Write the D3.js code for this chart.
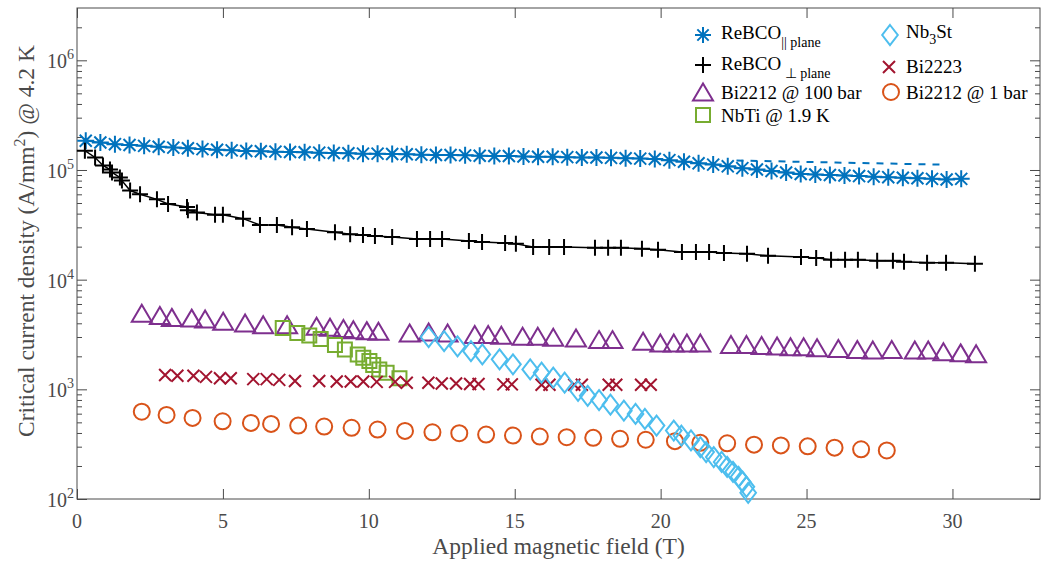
<!DOCTYPE html>
<html>
<head>
<meta charset="utf-8">
<script src="https://cdn.jsdelivr.net/npm/d3@7"></script>
<style>
  body { margin: 0; background: #fff; }
  svg { display: block; font-family: "Liberation Serif", "Times New Roman", serif; }
</style>
</head>
<body>
<script>
// values: [applied field (T), Jc (A/mm^2)]
var rebcoPar = [[0.3,1.85e5],[0.8,1.78e5],[1.3,1.72e5],[1.8,1.69e5],[2.3,1.66e5],[2.8,1.63e5],[3.3,1.60e5],[3.8,1.58e5],
  [4.3,1.55e5],[4.8,1.53e5],[5.3,1.51e5],[5.8,1.49e5],[6.3,1.48e5],[6.8,1.47e5],[7.3,1.46e5],[7.8,1.45e5],[8.3,1.44e5],
  [8.8,1.43e5],[9.3,1.42e5],[9.8,1.41e5],[10.3,1.41e5],[10.8,1.40e5],[11.3,1.39e5],[11.8,1.38e5],[12.3,1.37e5],
  [12.8,1.37e5],[13.3,1.36e5],[13.8,1.35e5],[14.3,1.34e5],[14.8,1.34e5],[15.3,1.33e5],[15.8,1.32e5],[16.3,1.32e5],
  [16.8,1.31e5],[17.3,1.30e5],[17.8,1.30e5],[18.3,1.29e5],[18.8,1.28e5],[19.3,1.27e5],[19.8,1.26e5],[20.3,1.23e5],
  [20.8,1.19e5],[21.3,1.15e5],[21.8,1.12e5],[22.3,1.08e5],[22.8,1.04e5],[23.3,1.01e5],[23.8,9.8e4],[24.3,9.5e4],
  [24.8,9.2e4],[25.3,9.1e4],[25.8,9.0e4],[26.3,8.9e4],[26.8,8.8e4],[27.3,8.7e4],[27.8,8.6e4],[28.3,8.5e4],[28.8,8.4e4],
  [29.3,8.3e4],[29.8,8.2e4],[30.3,8.3e4]];
var rebcoParDash = [[22.6,1.22e5],[26.0,1.17e5],[29.6,1.12e5]];
var rebcoPerp = [[0.27,1.50e5],[0.62,1.30e5],[0.89,1.10e5],[1.13,1.01e5],[1.20,9.5e4],[1.47,8.55e4],[1.54,8.0e4],
  [1.82,6.5e4],[2.16,6.0e4],[2.74,5.4e4],[3.12,4.9e4],[3.77,4.6e4],[3.80,4.3e4],[4.11,4.1e4],[4.73,3.9e4],[5.00,3.9e4],
  [5.69,3.6e4],[6.27,3.15e4],[6.85,3.15e4],[7.37,3.0e4],[7.88,2.9e4],[8.84,2.7e4],[9.36,2.6e4],[9.80,2.55e4],
  [10.21,2.5e4],[10.80,2.45e4],[11.65,2.35e4],[12.10,2.35e4],[12.51,2.35e4],[13.43,2.25e4],[13.88,2.2e4],[14.67,2.16e4],
  [15.04,2.12e4],[15.63,1.99e4],[16.18,1.99e4],[16.69,1.99e4],[17.75,1.95e4],[18.20,1.95e4],[18.64,1.95e4],
  [19.36,1.91e4],[19.91,1.87e4],[20.73,1.79e4],[21.21,1.79e4],[21.66,1.79e4],[22.17,1.75e4],[22.96,1.72e4],
  [23.68,1.65e4],[24.81,1.61e4],[25.33,1.58e4],[25.84,1.52e4],[26.32,1.52e4],[26.76,1.52e4],[27.42,1.49e4],
  [27.96,1.49e4],[28.34,1.46e4],[29.13,1.43e4],[29.78,1.43e4],[30.77,1.40e4]];
var bi2212High = [[2.22,4.95e3],[2.84,4.72e3],[3.25,4.53e3],[3.93,4.46e3],[4.39,4.37e3],[5.01,4.17e3],[5.76,4.03e3],
  [6.38,3.89e3],[7.2,3.89e3],[8.21,3.76e3],[8.67,3.68e3],[9.13,3.58e3],[9.47,3.50e3],[9.93,3.43e3],[10.33,3.38e3],
  [11.4,3.27e3],[12.05,3.34e3],[12.7,3.27e3],[13.63,3.16e3],[14.09,3.16e3],[14.54,3.11e3],[15.27,3.05e3],[15.79,3.05e3],
  [16.32,2.99e3],[17.1,2.94e3],[17.89,2.84e3],[18.35,2.84e3],[19.4,2.75e3],[19.99,2.65e3],[20.45,2.65e3],[20.9,2.65e3],
  [21.36,2.65e3],[22.41,2.56e3],[22.94,2.56e3],[23.46,2.51e3],[23.99,2.48e3],[24.45,2.44e3],[24.9,2.44e3],[25.36,2.39e3],
  [26.09,2.36e3],[26.74,2.31e3],[27.27,2.28e3],[27.92,2.31e3],[28.71,2.28e3],[29.17,2.28e3],[29.69,2.20e3],
  [30.28,2.15e3],[30.81,2.11e3]];
var nbti = [[7.05,3.62e3],[7.55,3.27e3],[7.96,3.09e3],[8.35,2.88e3],[8.84,2.53e3],[9.18,2.31e3],[9.62,2.08e3],
  [9.81,1.94e3],[10.02,1.81e3],[10.15,1.67e3],[10.36,1.52e3],[10.61,1.42e3],[11.05,1.26e3]];
var nb3sn = [[12.05,3.0e3],[12.58,2.75e3],[13.04,2.47e3],[13.5,2.23e3],[13.89,2.08e3],[14.48,1.88e3],[14.94,1.69e3],
  [15.53,1.52e3],[15.92,1.42e3],[16.32,1.28e3],[16.71,1.15e3],[17.17,969],[17.5,873],[17.89,798],[18.28,724],
  [18.74,639],[19.14,596],[19.46,537],[19.86,467],[20.45,421],[20.71,379],[21.04,342],[21.36,297],[21.56,268],
  [21.82,241],[22.09,218],[22.28,196],[22.48,177],[22.67,159],[22.81,144],[22.94,129],[23.0,114]];
var bi2223 = [[3.02,1.35e3],[3.44,1.33e3],[3.99,1.33e3],[4.42,1.30e3],[4.90,1.26e3],[5.27,1.26e3],[6.04,1.24e3],
  [6.50,1.24e3],[6.93,1.22e3],[7.47,1.19e3],[8.30,1.19e3],[8.90,1.18e3],[9.38,1.18e3],[9.81,1.18e3],[10.27,1.17e3],
  [10.90,1.17e3],[11.30,1.15e3],[12.04,1.15e3],[12.50,1.13e3],[12.99,1.13e3],[13.47,1.12e3],[13.76,1.12e3],
  [14.61,1.11e3],[14.90,1.11e3],[15.92,1.10e3],[16.19,1.10e3],[17.04,1.10e3],[17.30,1.10e3],[18.22,1.10e3],
  [18.48,1.10e3],[19.33,1.10e3],[19.66,1.10e3]];
var bi2212Low = [[2.22,625],[3.07,584],[3.96,549],[4.99,511],[5.96,494],[6.65,484],[7.58,467],[8.47,458],[9.41,446],
  [10.3,430],[11.24,418],[12.18,406],[13.1,398],[14.02,387],[14.94,379],[15.86,371],[16.78,366],[17.69,361],[18.61,354],
  [19.49,347],[20.49,337],[21.36,325],[22.28,322],[23.2,313],[24.12,308],[25.04,302],[25.96,294],[26.87,284],[27.75,277]];

var xTicks = [0, 5, 10, 15, 20, 25, 30];
var yExponents = [2, 3, 4, 5, 6];

var width = 1041, height = 563;
var plotL = 77, plotR = 1040, plotT = 8, plotB = 499;
var axisColor = "#4a4a4a";

var svg = d3.select("body").append("svg")
  .attr("width", width)
  .attr("height", height);

var x = d3.scaleLinear().domain([0, 33]).range([plotL, plotR]);
var y = d3.scaleLog().domain([100, 3e6]).range([plotB, plotT]);

var yMajor = yExponents.map(function(e) { return Math.pow(10, e); });
var yMinor = [];
yExponents.forEach(function(e) {
  for (var m = 2; m <= 9; m++) {
    var v = m * Math.pow(10, e);
    if (v < y.domain()[1]) yMinor.push(v);
  }
});

// box
svg.append("rect")
  .attr("x", plotL).attr("y", plotT)
  .attr("width", plotR - plotL).attr("height", plotB - plotT)
  .attr("fill", "none").attr("stroke", axisColor).attr("stroke-width", 1);

function styleAxis(g) {
  g.select(".domain").remove();
  g.selectAll(".tick line").attr("stroke", axisColor).attr("stroke-width", 1);
}

// ticks, all pointing inward
svg.append("g").attr("transform", "translate(0," + plotB + ")")
  .call(d3.axisBottom(x).tickValues(xTicks).tickSize(-10).tickFormat("")).call(styleAxis);
svg.append("g").attr("transform", "translate(0," + plotT + ")")
  .call(d3.axisTop(x).tickValues(xTicks).tickSize(-10).tickFormat("")).call(styleAxis);
svg.append("g").attr("transform", "translate(" + plotL + ",0)")
  .call(d3.axisLeft(y).tickValues(yMajor).tickSize(-10).tickFormat("")).call(styleAxis);
svg.append("g").attr("transform", "translate(" + plotL + ",0)")
  .call(d3.axisLeft(y).tickValues(yMinor).tickSize(-5).tickFormat("")).call(styleAxis);
svg.append("g").attr("transform", "translate(" + plotR + ",0)")
  .call(d3.axisRight(y).tickValues(yMajor).tickSize(-10).tickFormat("")).call(styleAxis);
svg.append("g").attr("transform", "translate(" + plotR + ",0)")
  .call(d3.axisRight(y).tickValues(yMinor).tickSize(-5).tickFormat("")).call(styleAxis);

// tick labels
svg.append("g").selectAll("text")
  .data(xTicks)
  .join("text")
  .attr("x", function(d) { return x(d); })
  .attr("y", plotB + 29)
  .attr("text-anchor", "middle")
  .attr("font-size", 20)
  .attr("fill", axisColor)
  .text(function(d) { return d; });

var yLab = svg.append("g").selectAll("text")
  .data(yExponents)
  .join("text")
  .attr("x", plotL - 3)
  .attr("y", function(d) { return y(Math.pow(10, d)) + 8; })
  .attr("text-anchor", "end")
  .attr("fill", axisColor)
  .attr("font-size", 20);
yLab.append("tspan").text("10");
yLab.append("tspan").attr("dy", -9).attr("font-size", 14).text(function(d) { return d; });

// axis titles
svg.append("text")
  .attr("x", (plotL + plotR) / 2)
  .attr("y", 554)
  .attr("text-anchor", "middle")
  .attr("font-size", 23.5)
  .attr("fill", axisColor)
  .text("Applied magnetic field (T)");

var yt = svg.append("text")
  .attr("transform", "translate(34,241) rotate(-90)")
  .attr("text-anchor", "middle")
  .attr("font-size", 23.5)
  .attr("fill", axisColor);
yt.append("tspan").text("Critical current density (A/mm");
yt.append("tspan").attr("dy", -9).attr("font-size", 16).text("2");
yt.append("tspan").attr("dy", 9).text(") @ 4.2 K");

// marker shapes
var shapes = {
  asterisk: function(r) {
    var d = r * 0.7071;
    return "M" + (-r) + ",0H" + r + "M0," + (-r) + "V" + r +
      "M" + (-d) + "," + (-d) + "L" + d + "," + d + "M" + (-d) + "," + d + "L" + d + "," + (-d);
  },
  plus: function(r) { return "M" + (-r) + ",0H" + r + "M0," + (-r) + "V" + r; },
  cross: function(r) { return "M" + (-r) + "," + (-r) + "L" + r + "," + r + "M" + (-r) + "," + r + "L" + r + "," + (-r); },
  triangle: function(r) { return "M0," + (-r * 0.85) + "L" + r + "," + (r * 0.85) + "L" + (-r) + "," + (r * 0.85) + "Z"; },
  square: function(r) { return "M" + (-r) + "," + (-r) + "H" + r + "V" + r + "H" + (-r) + "Z"; },
  diamond: function(r) { return "M0," + (-r) + "L" + (r * 0.78) + ",0L0," + r + "L" + (-r * 0.78) + ",0Z"; },
  circle: function(r) { return "M" + r + ",0A" + r + "," + r + " 0 1,1 " + (-r) + ",0A" + r + "," + r + " 0 1,1 " + r + ",0Z"; }
};

var line = d3.line().x(function(d) { return x(d[0]); }).y(function(d) { return y(d[1]); });

var series = [
  { data: rebcoPar, shape: "asterisk", r: 8.5, color: "#0072BD", line: true },
  { data: rebcoPerp, shape: "plus", r: 8, color: "#000000", line: true },
  { data: bi2212High, shape: "triangle", r: 10, color: "#7E2F8E" },
  { data: nbti, shape: "square", r: 7, color: "#77AC30" },
  { data: bi2223, shape: "cross", r: 6, color: "#A2142F" },
  { data: bi2212Low, shape: "circle", r: 8, color: "#D95319" },
  { data: nb3sn, shape: "diamond", r: 10, color: "#4DBEEE" }
];

svg.append("path")
  .datum(rebcoParDash)
  .attr("d", line)
  .attr("fill", "none")
  .attr("stroke", "#0072BD")
  .attr("stroke-width", 2)
  .attr("stroke-dasharray", "7,7");

series.forEach(function(s) {
  if (s.line) {
    svg.append("path")
      .datum(s.data)
      .attr("d", line)
      .attr("fill", "none")
      .attr("stroke", s.color)
      .attr("stroke-width", 1.5);
  }
  svg.append("g").selectAll("path")
    .data(s.data)
    .join("path")
    .attr("transform", function(d) { return "translate(" + x(d[0]) + "," + y(d[1]) + ")"; })
    .attr("d", shapes[s.shape](s.r))
    .attr("fill", "none")
    .attr("stroke", s.color)
    .attr("stroke-width", 2);
});

// legend
var legendItems = [
  { shape: "asterisk", r: 8, color: "#0072BD", mx: 703, my: 35, tx: 721, ty: 39, main: "ReBCO", sub: "|| plane", subDy: 8 },
  { shape: "plus", r: 8, color: "#000000", mx: 703, my: 65, tx: 721, ty: 70, main: "ReBCO", sub: " \u22a5 plane", subDy: 8 },
  { shape: "triangle", r: 10, color: "#7E2F8E", mx: 703, my: 92, tx: 721, ty: 99, main: "Bi2212 @ 100 bar" },
  { shape: "square", r: 7, color: "#77AC30", mx: 703, my: 115, tx: 721, ty: 121.5, main: "NbTi @ 1.9 K" },
  { shape: "diamond", r: 10, color: "#4DBEEE", mx: 890, my: 35, tx: 906, ty: 38, main: "Nb", sub: "3", subDy: 6, after: "St" },
  { shape: "cross", r: 6, color: "#A2142F", mx: 889, my: 67, tx: 906, ty: 73, main: "Bi2223" },
  { shape: "circle", r: 8, color: "#D95319", mx: 891, my: 92, tx: 906, ty: 98.5, main: "Bi2212 @ 1 bar" }
];

var leg = svg.append("g");
leg.selectAll("path")
  .data(legendItems)
  .join("path")
  .attr("transform", function(d) { return "translate(" + d.mx + "," + d.my + ")"; })
  .attr("d", function(d) { return shapes[d.shape](d.r); })
  .attr("fill", "none")
  .attr("stroke", function(d) { return d.color; })
  .attr("stroke-width", 2);

leg.selectAll("text")
  .data(legendItems)
  .join("text")
  .attr("x", function(d) { return d.tx; })
  .attr("y", function(d) { return d.ty; })
  .attr("font-size", 19)
  .attr("fill", "#000")
  .each(function(d) {
    var t = d3.select(this);
    t.append("tspan").text(d.main);
    if (d.sub) {
      t.append("tspan").attr("dy", d.subDy).attr("font-size", 14).text(d.sub);
      if (d.after) t.append("tspan").attr("dy", -d.subDy).text(d.after);
    }
  });
</script>
</body>
</html>
